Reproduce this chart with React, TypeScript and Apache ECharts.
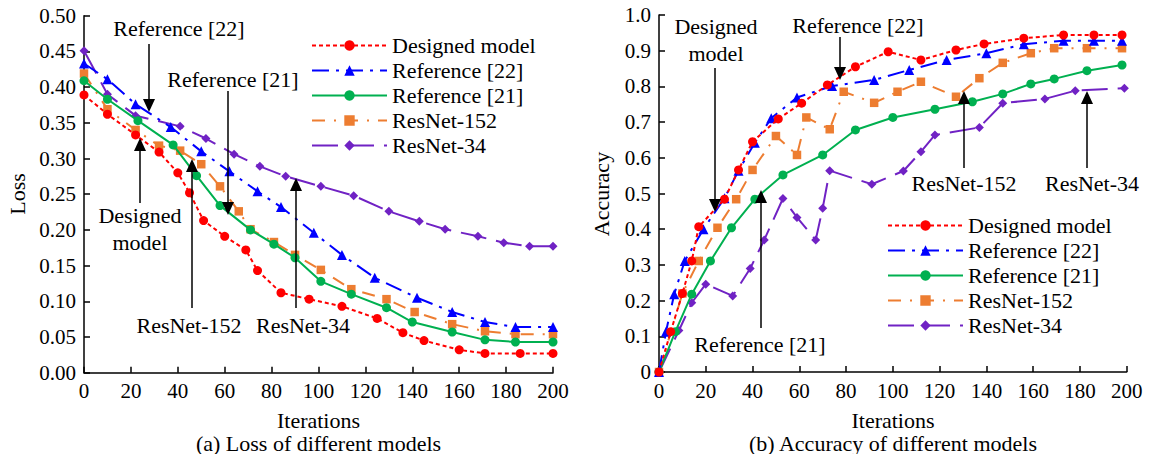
import React, { useEffect, useRef } from "react";
import * as echarts from "echarts";

const seriesNames = ["Designed model", "Reference [22]", "Reference [21]", "ResNet-152", "ResNet-34"];
const xTicks = [0, 20, 40, 60, 80, 100, 120, 140, 160, 180, 200];

// (a) Loss
const designedLossX = [0, 10, 22, 32, 40, 45, 51, 60, 69, 74, 84, 96, 110, 125, 136, 145, 160, 171, 186, 200];
const designedLossY = [0.389, 0.362, 0.333, 0.309, 0.280, 0.252, 0.213, 0.191, 0.172, 0.143, 0.112, 0.103, 0.093, 0.076, 0.056, 0.045, 0.032, 0.027, 0.027, 0.027];
const ref22LossX = [0, 10, 22, 37, 50, 62, 74, 84, 98, 110, 124, 142, 157, 171, 184, 200];
const ref22LossY = [0.433, 0.411, 0.376, 0.344, 0.310, 0.282, 0.254, 0.232, 0.196, 0.165, 0.133, 0.105, 0.085, 0.071, 0.064, 0.064];
const ref21LossX = [0, 10, 23, 38, 48, 58, 71, 81, 90, 101, 114, 129, 140, 157, 171, 184, 200];
const ref21LossY = [0.409, 0.383, 0.353, 0.319, 0.276, 0.234, 0.200, 0.180, 0.161, 0.128, 0.110, 0.091, 0.071, 0.057, 0.046, 0.043, 0.043];
const r152LossX = [0, 10, 22, 32, 41, 50, 58, 66, 71, 81, 90, 101, 114, 129, 141, 157, 171, 184, 200];
const r152LossY = [0.419, 0.369, 0.340, 0.318, 0.311, 0.292, 0.261, 0.226, 0.201, 0.183, 0.165, 0.144, 0.117, 0.103, 0.085, 0.068, 0.058, 0.054, 0.054];
const r34LossX = [0, 10, 22, 41, 52, 64, 75, 86, 101, 115, 130, 143, 154, 168, 179, 190, 200];
const r34LossY = [0.451, 0.390, 0.360, 0.345, 0.328, 0.306, 0.289, 0.275, 0.261, 0.248, 0.226, 0.212, 0.201, 0.191, 0.182, 0.177, 0.177];

// (b) Accuracy
const designedAccX = [0, 5, 10, 14, 17, 28, 34, 40, 51, 61, 72, 84, 98, 112, 127, 139, 156, 173, 186, 198];
const designedAccY = [0, 0.113, 0.22, 0.311, 0.407, 0.484, 0.566, 0.645, 0.709, 0.753, 0.804, 0.855, 0.897, 0.874, 0.902, 0.919, 0.935, 0.944, 0.944, 0.944];
const ref22AccX = [0, 3, 6.5, 11, 19, 28, 34, 41, 48, 59, 74, 92, 107, 123, 140, 156, 173, 186, 198];
const ref22AccY = [0, 0.113, 0.218, 0.311, 0.40, 0.487, 0.564, 0.642, 0.711, 0.769, 0.801, 0.818, 0.846, 0.874, 0.893, 0.918, 0.928, 0.928, 0.928];
const ref21AccX = [0, 7, 14, 22, 31, 41, 53, 70, 84, 100, 118, 134, 147, 159, 169, 183, 198];
const ref21AccY = [0, 0.113, 0.218, 0.311, 0.404, 0.484, 0.552, 0.608, 0.678, 0.713, 0.736, 0.757, 0.779, 0.807, 0.821, 0.844, 0.860];
const r152AccX = [0, 10, 17, 25, 33, 40, 50, 59, 63, 73, 79, 92, 102, 112, 127, 137, 147, 159, 169, 183, 198];
const r152AccY = [0, 0.22, 0.311, 0.404, 0.484, 0.566, 0.661, 0.608, 0.713, 0.680, 0.785, 0.754, 0.785, 0.813, 0.771, 0.823, 0.866, 0.893, 0.907, 0.907, 0.907];
const r34AccX = [0, 8.5, 14, 20, 31.5, 39, 45, 53, 59, 67, 70, 73, 91, 104.5, 112, 118, 137, 147, 165, 178, 199];
const r34AccY = [0, 0.116, 0.194, 0.246, 0.213, 0.29, 0.37, 0.486, 0.433, 0.37, 0.459, 0.564, 0.526, 0.563, 0.617, 0.664, 0.685, 0.753, 0.765, 0.788, 0.795];

const FONT = "Liberation Serif";

const styles = [
  { color: "#FF0000", symbol: "circle", symbolSize: 9, type: [4, 3] as any },
  { color: "#0000FF", symbol: "triangle", symbolSize: 10, type: [17, 7, 3, 7] as any },
  { color: "#00B050", symbol: "circle", symbolSize: 9, type: "solid" as any },
  { color: "#ED7D31", symbol: "rect", symbolSize: 8.5, type: [13, 9, 2, 9] as any },
  { color: "#7022C4", symbol: "diamond", symbolSize: 9, type: [26, 10] as any },
];

function pairs(xs: number[], ys: number[]) {
  return xs.map((x, i) => [x, ys[i]]);
}

function arrow(x: number, yFrom: number, yTip: number) {
  const dir = yTip > yFrom ? 1 : -1;
  const headLen = 13;
  const headHalf = 6;
  return [
    {
      type: "line",
      shape: { x1: x, y1: yFrom, x2: x, y2: yTip - dir * headLen + dir * 1 },
      style: { stroke: "#000", lineWidth: 1.5 },
      z: 100,
    },
    {
      type: "polygon",
      shape: { points: [[x, yTip], [x - headHalf, yTip - dir * headLen], [x + headHalf, yTip - dir * headLen]] },
      style: { fill: "#000" },
      z: 100,
    },
  ];
}

function text(str: string, x: number, y: number, extra: any = {}) {
  return {
    type: "text",
    x,
    y,
    style: {
      text: str,
      fontFamily: FONT,
      fontSize: 22,
      fill: "#000",
      align: "center",
      verticalAlign: "middle",
      ...extra,
    },
    z: 100,
  };
}

export default function App() {
  const ref = useRef<HTMLDivElement>(null);
  useEffect(() => {
    if (!ref.current) return;
    const chart = echarts.init(ref.current, undefined, { renderer: "svg" });

    const lossData = [
      pairs(designedLossX, designedLossY),
      pairs(ref22LossX, ref22LossY),
      pairs(ref21LossX, ref21LossY),
      pairs(r152LossX, r152LossY),
      pairs(r34LossX, r34LossY),
    ];
    const accData = [
      pairs(designedAccX, designedAccY),
      pairs(ref22AccX, ref22AccY),
      pairs(ref21AccX, ref21AccY),
      pairs(r152AccX, r152AccY),
      pairs(r34AccX, r34AccY),
    ];

    const mkSeries = (data: number[][][], idx: number) =>
      data.map((d, i) => ({
        type: "line",
        name: seriesNames[i],
        xAxisIndex: idx,
        yAxisIndex: idx,
        data: d,
        symbol: styles[i].symbol,
        symbolSize: styles[i].symbolSize,
        showSymbol: true,
        lineStyle: { color: styles[i].color, width: 2, type: styles[i].type },
        itemStyle: { color: styles[i].color, borderWidth: 0 },
        emphasis: { disabled: true },
        z: 10 - i,
      }));

    const axisCommon = {
      axisLine: { show: true, lineStyle: { color: "#000", width: 1.5 } },
      axisTick: { show: true, inside: true, length: 6, lineStyle: { color: "#000", width: 1.5 } },
      splitLine: { show: false },
      axisLabel: { color: "#000", fontFamily: FONT, fontSize: 21, margin: 8 },
    };

    const xAxisDef = (gridIndex: number) => ({
      type: "value",
      gridIndex,
      min: xTicks[0],
      max: xTicks[xTicks.length - 1],
      interval: xTicks[1] - xTicks[0],
      ...axisCommon,
    });

    const legendCommon = {
      orient: "vertical",
      itemWidth: 75,
      itemHeight: 13,
      itemGap: 0,
      textStyle: { fontFamily: FONT, fontSize: 22, color: "#000", lineHeight: 25 },
      data: seriesNames,
      selectedMode: false,
    };

    const graphics: any[] = [
      text("Iterations", 318.5, 420),
      text("(a) Loss of different models", 318.5, 443),
      text("Iterations", 893, 420),
      text("(b) Accuracy of different models", 893, 443),
      { ...text("Loss", 17, 194), rotation: Math.PI / 2 },
      { ...text("Accuracy", 601, 194), rotation: Math.PI / 2 },
      text("Reference [22]", 179, 28),
      ...arrow(149, 44, 112),
      text("Reference [21]", 233, 79),
      ...arrow(228, 91, 215),
      text("Designed", 140, 215),
      text("model", 140, 242),
      ...arrow(140, 203, 138),
      text("ResNet-152", 189, 325),
      ...arrow(192, 308, 159),
      text("ResNet-34", 303, 325),
      ...arrow(296, 308, 178),
      text("Designed", 716, 26),
      text("model", 716, 53),
      ...arrow(715, 68, 212),
      text("Reference [22]", 858, 25),
      ...arrow(840, 37, 80),
      text("Reference [21]", 760, 344),
      ...arrow(761, 328, 190),
      text("ResNet-152", 964, 183),
      ...arrow(964, 168, 91),
      text("ResNet-34", 1092, 183),
      ...arrow(1087, 168, 91),
    ];

    chart.setOption({
      animation: false,
      grid: [
        { left: 84, top: 15.7, width: 469, height: 357 },
        { left: 659, top: 15, width: 467.7, height: 357 },
      ],
      xAxis: [xAxisDef(0), xAxisDef(1)],
      yAxis: [
        {
          type: "value",
          gridIndex: 0,
          min: 0,
          max: 0.5,
          interval: 0.05,
          ...axisCommon,
          axisLabel: { ...axisCommon.axisLabel, formatter: (v: number) => v.toFixed(2) },
        },
        {
          type: "value",
          gridIndex: 1,
          min: 0,
          max: 1,
          interval: 0.1,
          ...axisCommon,
          axisLabel: { ...axisCommon.axisLabel, formatter: (v: number) => (v === 0 ? "0" : v.toFixed(1)) },
        },
      ],
      legend: [
        { ...legendCommon, left: 306, top: 28 },
        { ...legendCommon, left: 882, top: 208 },
      ],
      series: [...mkSeries(lossData, 0), ...mkSeries(accData, 1)],
      graphic: graphics,
    });
    return () => chart.dispose();
  }, []);
  return (
    <div
      ref={ref}
      style={{ position: "absolute", left: 0, top: 0, width: 1150, height: 454, background: "#fff" }}
    />
  );
}
